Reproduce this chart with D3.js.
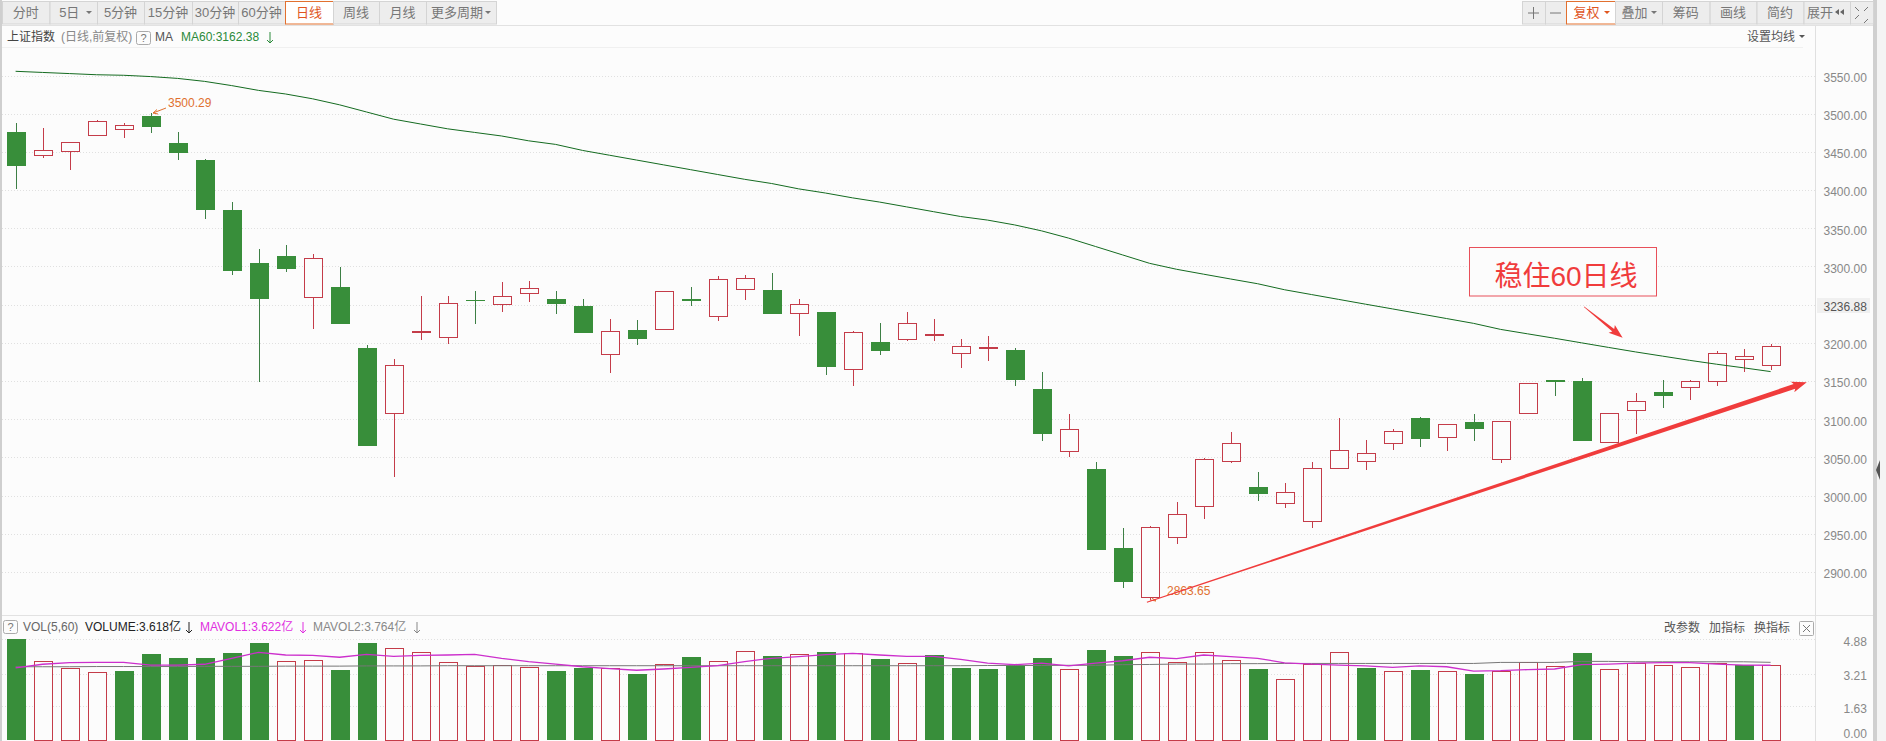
<!DOCTYPE html>
<html>
<head>
<title></title>
<script src="https://cdnjs.cloudflare.com/ajax/libs/d3/7.8.5/d3.min.js"></script>
<style>
body { margin: 0; background: #fcfcfc; overflow: hidden; }
text { font-family: "Liberation Sans", "Noto Sans CJK SC", sans-serif; font-size: 12px; }
</style>
</head>
<body>
<div id="chart"></div>
<script>
var opens = [3476,3445,3450.3,3471.2,3479.1,3497,3461.6,3439.4,3374,3304.6,3313.8,3259.2,3273.2,3193.3,3107.8,3214.7,3207.3,3256.2,3250.5,3264.9,3257.5,3248.3,3185,3216.9,3218,3257.2,3235,3270.3,3269.4,3240.2,3240.6,3165.6,3200.9,3204.8,3211,3186,3192.6,3190.9,3139.8,3058.2,3034.7,2931.3,2866.7,2945.3,2985.9,3044.8,3011.2,2989.8,2966.2,3035.4,3045,3068.6,3101.7,3076.4,3096.5,3047.6,3108,3151.2,3150.3,3069.9,3111.9,3135.9,3142,3149.9,3179.5,3170.8];
var closes = [3432,3452,3462.5,3490,3484.8,3482.6,3448.5,3373.9,3294.6,3257.5,3297.2,3310.7,3225.2,3065.5,3170.6,3215.6,3251.8,3255.3,3261,3271.5,3251.4,3213.4,3215.2,3205.6,3267.7,3254.2,3283.4,3284.7,3238.4,3251.5,3169,3214,3188.7,3225.8,3211.4,3195.7,3194.4,3152,3081.3,3087,2929.1,2887.2,2958.4,2975.4,3047.4,3068.4,3002.5,3004.2,3035.6,3059.4,3055.5,3084.3,3074.7,3093.5,3087.8,3097.4,3147.3,3148.1,3071.6,3108,3123.7,3131.1,3149.4,3186.5,3183,3195.7];
var highs = [3487.4,3481,3462.5,3491.8,3488.3,3500.29,3475.6,3441,3384.4,3322.5,3328.2,3316.4,3299.8,3197.3,3179,3261,3261,3268,3279.7,3281,3268.4,3257.5,3231.3,3229.6,3268,3273.4,3287.8,3289,3291.2,3257.2,3240.6,3215.8,3225.8,3240.6,3231.5,3205.3,3209.2,3193,3162.1,3107.1,3043.9,2957.5,2960.1,2991.6,3048.7,3082.8,3030.8,3016.4,3043.7,3101.7,3072.5,3086.9,3102.6,3093.5,3106.5,3097.4,3147.3,3151.2,3153.8,3108,3134.2,3151.6,3151.2,3189.6,3192.2,3198.3];
var lows = [3401,3442,3426.3,3471,3468.2,3474.7,3439.8,3362.1,3288.9,3149.3,3293.3,3218.2,3225.2,3065.5,3024.9,3204.2,3199,3225.2,3240.9,3254,3238.3,3213.4,3161,3197.7,3217.8,3247.6,3228,3256.3,3238.4,3209.6,3157.3,3142.9,3184.3,3201.8,3201.8,3167.7,3175.6,3142.9,3070.9,3051.2,2929.1,2879.4,2863.65,2937,2969.7,3043,2993.3,2984.1,2957.9,3035.4,3034.1,3060.3,3064.2,3059,3071.6,3043.3,3108,3129.8,3071.6,3069.9,3080.4,3114.5,3124.6,3142.9,3161.2,3164.7];
var ma60 = [3555.5,3554,3552.5,3551,3550.3,3548.6,3546.2,3542.3,3536.8,3530.5,3525.8,3519.5,3511.6,3502.2,3492.8,3486.5,3480.2,3475.5,3470.8,3464.5,3459.8,3451.9,3445.6,3439.3,3433,3426.7,3420.4,3414.1,3408.6,3401.6,3396.1,3389.8,3384.3,3378,3371.7,3365.4,3360.7,3354.4,3346.6,3337.1,3326.1,3315.1,3304.1,3296.3,3289.9,3283.6,3277.4,3269.5,3263.2,3256.9,3250.6,3244.4,3238.1,3231.8,3225.5,3217.6,3211.8,3206,3200,3194,3188.1,3182.6,3177.1,3172,3167.3,3162.38];
var volumes = [4.90,3.81,3.48,3.28,3.35,4.17,3.98,3.98,4.22,4.70,3.81,3.86,3.39,4.70,4.44,4.25,3.76,3.59,3.62,3.54,3.35,3.47,3.47,3.20,3.67,4.02,3.81,4.30,4.07,4.15,4.26,4.20,3.93,3.71,4.12,3.49,3.44,3.63,3.97,3.42,4.36,4.07,4.25,3.76,4.25,3.86,3.44,2.94,3.68,4.25,3.49,3.33,3.39,3.33,3.20,3.36,3.78,3.57,4.22,3.42,3.75,3.62,3.52,3.75,3.65,3.62];
var volGreen = [0,4,5,6,7,8,9,12,13,20,21,23,25,28,30,32,34,35,36,37,38,40,41,46,50,52,54,58,64];
var mavol1 = [3.50,3.67,3.75,3.76,3.76,3.63,3.63,3.67,3.96,4.25,4.12,4.10,4.01,4.15,4.05,4.10,4.12,4.15,3.96,3.80,3.68,3.55,3.46,3.38,3.44,3.52,3.60,3.80,3.96,4.04,4.14,4.20,4.12,4.05,4.05,3.91,3.73,3.65,3.73,3.59,3.73,3.84,4.01,3.94,4.12,4.04,3.96,3.74,3.68,3.63,3.59,3.52,3.59,3.55,3.34,3.36,3.41,3.44,3.65,3.68,3.73,3.75,3.75,3.68,3.63,3.622];
var mavol2 = [3.55,3.55,3.55,3.56,3.56,3.56,3.56,3.57,3.57,3.57,3.58,3.58,3.58,3.59,3.59,3.59,3.60,3.60,3.60,3.60,3.60,3.60,3.60,3.60,3.60,3.60,3.60,3.60,3.60,3.60,3.60,3.60,3.60,3.60,3.60,3.60,3.61,3.61,3.61,3.62,3.62,3.65,3.66,3.68,3.68,3.70,3.70,3.71,3.71,3.71,3.71,3.71,3.71,3.71,3.71,3.76,3.76,3.76,3.81,3.81,3.79,3.79,3.79,3.79,3.79,3.764];
var priceTicks = [3550,3500,3450,3400,3350,3300,3250,3200,3150,3100,3050,3000,2950,2900];
var priceLabels = ["3550.00","3500.00","3450.00","3400.00","3350.00","3300.00","3236.88","3200.00","3150.00","3100.00","3050.00","3000.00","2950.00","2900.00"];
var volTicks = [4.88,3.21,1.63,0];
var leftTabs = ["分时","5日","5分钟","15分钟","30分钟","60分钟","日线","周线","月线","更多周期"];
var rightTabs = ["","","复权","叠加","筹码","画线","简约","",""];

var w = 1886, h = 741;
var svg = d3.select("#chart").append("svg").attr("width", w).attr("height", h).style("display", "block");

var x = d3.scaleLinear().domain([0, 65]).range([15.6, 1770.6]);
var y = d3.scaleLinear().domain([2900, 3550]).range([572, 75.5]);
var yv = d3.scaleLinear().domain([0, 4.88]).range([740, 639.3]);
var candleW = 19;
var upColor = "#c43c49", downColor = "#388e3a", wickDown = "#3d7f45";

// page frame
svg.append("rect").attr("width", w).attr("height", h).attr("fill", "#fcfcfc");
svg.append("rect").attr("x", 0).attr("y", 0).attr("width", 2).attr("height", h).attr("fill", "#cfcfcf");
svg.append("rect").attr("x", 1873).attr("y", 0).attr("width", 13).attr("height", h).attr("fill", "#f4f4f4");
svg.append("rect").attr("x", 1873).attr("y", 0).attr("width", 4).attr("height", h).attr("fill", "#d0d0d0");
svg.append("path").attr("d", "M1876 470 L1880 460 L1880 480 Z").attr("fill", "#555");
[25, 47, 615].forEach(function(v) {
  svg.append("line").attr("x1", 2).attr("x2", v == 47 ? 1803 : 1873).attr("y1", v + 0.5).attr("y2", v + 0.5).attr("stroke", v == 47 ? "#f0f0f0" : "#e2e2e2");
});
svg.append("line").attr("x1", 1815.5).attr("x2", 1815.5).attr("y1", 26).attr("y2", h).attr("stroke", "#e0e0e0");

// toolbar buttons
function buttons(labels, edges, active, carets) {
  labels.forEach(function(t, i) {
    var on = i == active;
    svg.append("rect").attr("x", edges[i] + 0.5).attr("y", 1.5).attr("width", edges[i + 1] - edges[i]).attr("height", 22.5)
      .attr("fill", on ? "#fff" : "#ededed").attr("stroke", on ? "#e2702f" : "#d4d4d4");
    var cx = (edges[i] + edges[i + 1]) / 2 + (carets.indexOf(i) >= 0 ? -4 : 0);
    svg.append("text").attr("x", cx).attr("y", 17).attr("text-anchor", "middle")
      .attr("fill", on ? "#e0561f" : "#777").style("font-size", "13px").text(t);
    if (carets.indexOf(i) >= 0) caret(edges[i + 1] - 8, 12, on ? "#e0561f" : "#777");
  });
}
function caret(cx, cy, color) {
  svg.append("path").attr("d", "M" + (cx - 3) + " " + (cy - 1) + " h6 l-3 3 Z").attr("fill", color);
}
buttons(leftTabs, [2, 49.5, 97, 144, 192, 238, 285, 333, 379, 426, 496], 6, [1, 9]);
buttons(rightTabs, [1522, 1545, 1566, 1615, 1662, 1709.6, 1756.5, 1803.5, 1850, 1873], 2, [2, 3]);
svg.append("path").attr("d", "M1528 13 h11 M1533.5 7 v12 M1550 13 h11").attr("stroke", "#777").attr("fill", "none");
svg.append("text").attr("x", 1807).attr("y", 17).attr("fill", "#777").style("font-size", "13px").text("展开");
svg.append("path").attr("d", "M1835 12 l4 -3 v6 Z M1840 12 l4 -3 v6 Z").attr("fill", "#666");
svg.append("path").attr("d", "M1855 7 l4 4 M1868 7 l-4 4 M1855 19 l4 -4 M1868 19 l-4 4").attr("stroke", "#777").attr("fill", "none");

// grid, dotted
svg.append("g").selectAll("line").data(priceTicks).join("line")
  .attr("x1", 2).attr("x2", 1815).attr("y1", function(d) { return Math.round(y(d)) + 0.5; }).attr("y2", function(d) { return Math.round(y(d)) + 0.5; })
  .attr("stroke", "#e0e0e0").attr("stroke-dasharray", "1,2");
svg.append("g").selectAll("line").data(volTicks.slice(0, 3)).join("line")
  .attr("x1", 2).attr("x2", 1815).attr("y1", function(d) { return Math.round(yv(d)) + 0.5; }).attr("y2", function(d) { return Math.round(yv(d)) + 0.5; })
  .attr("stroke", "#e0e0e0").attr("stroke-dasharray", "1,2");

// axis labels
svg.append("rect").attr("x", 1817).attr("y", 298).attr("width", 53).attr("height", 15).attr("fill", "#f0f0f0");
var priceAxis = d3.axisRight(y).tickValues(priceTicks).tickSize(0).tickPadding(8)
  .tickFormat(function(d, i) { return priceLabels[i]; });
var pa = svg.append("g").attr("transform", "translate(1815.5,2)").call(priceAxis);
pa.select(".domain").remove();
pa.selectAll("text").attr("fill", function(d) { return d == 3250 ? "#555" : "#888"; }).style("font-size", "12px");
var volAxis = d3.axisRight(yv).tickValues(volTicks).tickSize(0).tickPadding(28)
  .tickFormat(function(d) { return d.toFixed(2); });
var va = svg.append("g").attr("transform", "translate(1815.5,2)").call(volAxis);
va.select(".domain").remove();
va.selectAll("text").attr("fill", "#888").style("font-size", "12px");
va.selectAll("g.tick").filter(function(d) { return d == 0; }).attr("transform", "translate(0," + (yv(0) - 7.5) + ")");

// candles
var idx = d3.range(opens.length);
var up = function(i) { return closes[i] >= opens[i]; };
var candles = svg.append("g").attr("shape-rendering", "crispEdges");
candles.selectAll("line").data(idx).join("line")
  .attr("x1", function(i) { return Math.round(x(i)) + 0.5; }).attr("x2", function(i) { return Math.round(x(i)) + 0.5; })
  .attr("y1", function(i) { return y(highs[i]); }).attr("y2", function(i) { return y(lows[i]); })
  .attr("stroke", function(i) { return up(i) ? upColor : wickDown; });
candles.selectAll("rect").data(idx).join("rect")
  .attr("x", function(i) { return Math.round(x(i)) - 9 + (up(i) ? 0.5 : 0); })
  .attr("width", function(i) { return up(i) ? candleW - 1 : candleW; })
  .attr("y", function(i) { return Math.round(y(Math.max(opens[i], closes[i]))) + (up(i) ? 0.5 : 0); })
  .attr("height", function(i) { return Math.max(1, Math.round(Math.abs(y(opens[i]) - y(closes[i])))); })
  .attr("fill", function(i) { return up(i) ? "#fcfcfc" : downColor; })
  .attr("stroke", function(i) { return up(i) ? upColor : "none"; });

// ma60
var maLine = d3.line().x(function(d, i) { return x(i); }).y(function(d) { return y(d); });
svg.append("path").attr("d", maLine(ma60)).attr("fill", "none").attr("stroke", "#146b20").attr("stroke-width", 1);

// volume bars
var vols = svg.append("g").attr("shape-rendering", "crispEdges");
vols.selectAll("rect").data(idx).join("rect")
  .attr("x", function(i) { return Math.round(x(i)) - 9 + (volGreen.indexOf(i) >= 0 ? 0 : 0.5); })
  .attr("width", function(i) { return volGreen.indexOf(i) >= 0 ? candleW : candleW - 1; })
  .attr("y", function(i) { return Math.round(yv(volumes[i])) + (volGreen.indexOf(i) >= 0 ? 0 : 0.5); })
  .attr("height", function(i) { return Math.round(yv(0) - yv(volumes[i])); })
  .attr("fill", function(i) { return volGreen.indexOf(i) >= 0 ? downColor : "#fcfcfc"; })
  .attr("stroke", function(i) { return volGreen.indexOf(i) >= 0 ? "none" : upColor; });
var volLine = d3.line().x(function(d, i) { return x(i); }).y(function(d) { return yv(d); });
svg.append("path").attr("d", volLine(mavol2)).attr("fill", "none").attr("stroke", "#777").attr("stroke-width", 1);
svg.append("path").attr("d", volLine(mavol1)).attr("fill", "none").attr("stroke", "#cc2fcc").attr("stroke-width", 1.3);

// header text
function label(px, py, str, color, size, anchor) {
  return svg.append("text").attr("x", px).attr("y", py).attr("fill", color).attr("text-anchor", anchor || "start")
    .style("font-size", (size || 12) + "px").text(str);
}
function qbox(px, py) {
  svg.append("rect").attr("x", px + 0.5).attr("y", py + 0.5).attr("width", 14).attr("height", 13).attr("rx", 2).attr("fill", "none").attr("stroke", "#aaa");
}
function downArrow(px, py, color) {
  svg.append("path").attr("d", "M" + px + " " + (py - 6) + " v11 M" + (px - 3) + " " + (py + 2) + " l3 3 l3 -3")
    .attr("stroke", color).attr("fill", "none");
}
label(7, 41, "上证指数", "#444");
label(61, 41, "(日线,前复权)", "#888");
qbox(136, 31); label(143.5, 42, "?", "#777", 11, "middle");
label(155, 41, "MA", "#555");
label(181, 41, "MA60:3162.38", "#2a8a3a");
downArrow(270, 38, "#2a8a3a");
label(1747, 41, "设置均线", "#555");
caret(1802, 36, "#555");

qbox(3, 620); label(10.5, 631, "?", "#777", 11, "middle");
label(23, 631, "VOL(5,60)", "#666");
label(85, 631, "VOLUME:3.618亿", "#222");
downArrow(189, 628, "#222");
label(200, 631, "MAVOL1:3.622亿", "#e02ee0");
downArrow(303, 628, "#e02ee0");
label(313, 631, "MAVOL2:3.764亿", "#888");
downArrow(417, 628, "#888");
label(1664, 632, "改参数", "#555");
label(1709, 632, "加指标", "#555");
label(1754, 632, "换指标", "#555");
svg.append("rect").attr("x", 1799.5).attr("y", 621.5).attr("width", 14).attr("height", 14).attr("rx", 1).attr("fill", "none").attr("stroke", "#aaa");
svg.append("path").attr("d", "M1803 625 l7 7 M1810 625 l-7 7").attr("stroke", "#777");

// high / low marks
label(168, 107, "3500.29", "#e0702f");
label(1167, 595, "2863.65", "#e0702f");
svg.append("path").attr("d", "M166 108 L153 113 M157 109.5 L153 113 L158 114").attr("stroke", "#e0702f").attr("fill", "none");
svg.append("path").attr("d", "M1156 601 L1152 598 M1156 601 L1150 600").attr("stroke", "#e0702f").attr("fill", "none");

// hand drawn arrows, in chart units
function taper(from, to, w0, w1, headLen, headW) {
  var x0 = x(from[0]), y0 = y(from[1]), x1 = x(to[0]), y1 = y(to[1]);
  var dx = x1 - x0, dy = y1 - y0, len = Math.sqrt(dx * dx + dy * dy);
  var ux = dx / len, uy = dy / len, nx = -uy, ny = ux;
  var bx = x1 - ux * headLen, by = y1 - uy * headLen;
  var pts = [
    [x0 + nx * w0 / 2, y0 + ny * w0 / 2],
    [bx + nx * w1 / 2, by + ny * w1 / 2],
    [bx - ux * 2 + nx * headW / 2, by - uy * 2 + ny * headW / 2],
    [x1, y1],
    [bx - ux * 2 - nx * headW / 2, by - uy * 2 - ny * headW / 2],
    [bx - nx * w1 / 2, by - ny * w1 / 2],
    [x0 - nx * w0 / 2, y0 - ny * w0 / 2]
  ];
  svg.append("path").attr("d", d3.line()(pts) + "Z").attr("fill", "#f03c3c");
}
taper([41.9, 2860.3], [66.34, 3148.3], 1, 5, 13, 11);
taper([58.09, 3247.3], [59.52, 3206.7], 0.6, 3, 12, 10);

svg.append("rect").attr("x", 1469.5).attr("y", 247.5).attr("width", 187).attr("height", 48.5).attr("fill", "#fcfcfc").attr("stroke", "#e8505a");
label(1566, 285.5, "稳住60日线", "#f03c3c", 28, "middle");
</script>
</body>
</html>
